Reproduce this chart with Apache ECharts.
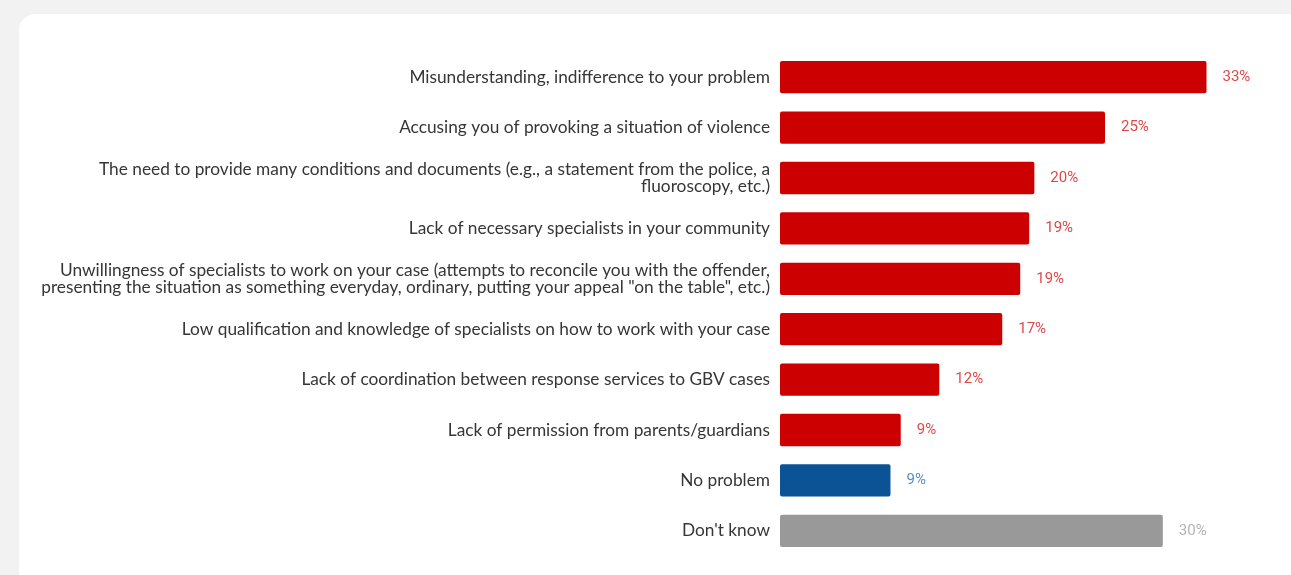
<!DOCTYPE html>
<html>
<head>
<meta charset="utf-8">
<script src="https://cdn.jsdelivr.net/npm/echarts@6/dist/echarts.min.js"></script>
<style>
html,body{margin:0;padding:0;background:#f2f2f2;}
#chart{width:1291px;height:575px;}
</style>
</head>
<body>
<div id="chart"></div>
<script>
const categories = [
  "Misunderstanding, indifference to your problem",
  "Accusing you of provoking a situation of violence",
  "The need to provide many conditions and documents (e.g., a statement from the police, a\nfluoroscopy, etc.)",
  "Lack of necessary specialists in your community",
  "Unwillingness of specialists to work on your case (attempts to reconcile you with the offender,\npresenting the situation as something everyday, ordinary, putting your appeal \"on the table\", etc.)",
  "Low qualification and knowledge of specialists on how to work with your case",
  "Lack of coordination between response services to GBV cases",
  "Lack of permission from parents/guardians",
  "No problem",
  "Don't know"
];
const values = [33.2, 25.3, 19.8, 19.4, 18.7, 17.3, 12.4, 9.4, 8.6, 29.8];
const groups = ["problem","problem","problem","problem","problem","problem","problem","problem","none","dk"];

const barColors = {problem: "#cc0000", none: "#0b5394", dk: "#999999"};
const labelColors = {problem: "#e04848", none: "#5a8cc4", dk: "#b3b3b3"};

const chart = echarts.init(document.getElementById('chart'), null, {renderer: 'canvas'});
const data = values.map((v, i) => ({
  value: v,
  itemStyle: {color: barColors[groups[i]]},
  label: {color: labelColors[groups[i]]}
}));

chart.setOption({
  animation: false,
  graphic: [{
    type: 'rect', z: -10, silent: true,
    shape: {x: 19, y: 14, width: 1320, height: 620, r: 16},
    style: {fill: '#ffffff'}
  }],
  grid: {left: 780, top: 52, width: 501, bottom: 19, containLabel: false},
  xAxis: {
    type: 'value', min: 0, max: 39, show: false
  },
  yAxis: {
    type: 'category', data: categories, inverse: true,
    axisLine: {show: false}, axisTick: {show: false}, splitLine: {show: false},
    axisLabel: {
      margin: 10, color: '#363636', fontFamily: 'Lato', fontSize: 17.3,
      lineHeight: 17, align: 'right'
    }
  },
  series: [{
    type: 'bar', data: data, barCategoryGap: '36%',
    itemStyle: {borderRadius: 2},
    label: {
      show: true, position: 'right', distance: 16,
      fontFamily: 'Roboto', fontSize: 15,
      formatter: p => Math.round(p.value) + '%'
    }
  }]
});
</script>
</body>
</html>
